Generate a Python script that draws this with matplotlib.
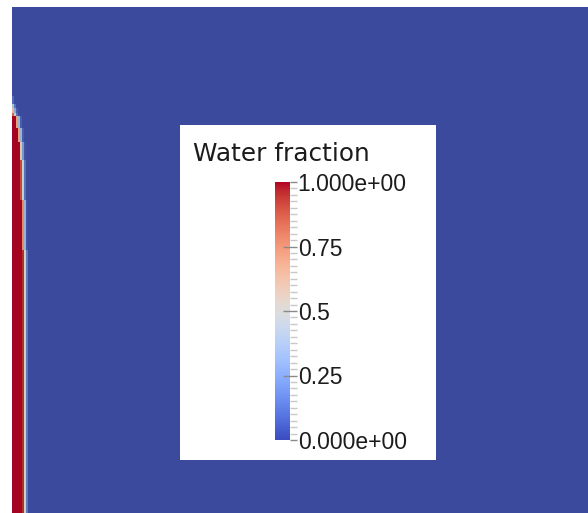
import numpy as np
import matplotlib
matplotlib.use("Agg")
import matplotlib.pyplot as plt
from matplotlib.colors import ListedColormap
from matplotlib import lines as mlines

# ---- figure geometry (pixels) ----
FIG_W, FIG_H, DPI = 588, 513, 100

# ---- water fraction field near the left wall ----
# cell columns (distance from the wall) and horizontal bands (depth from the top)
col_edges = [0, 2, 4, 6, 8, 10, 12, 14, 16]
band_edges = [89, 97, 101, 106, 109, 121, 135, 153, 193, 243, 506]
water = [
    [0.08, 0.00, 0.00, 0.00, 0.00, 0.00, 0.00, 0.00],
    [0.35, 0.10, 0.00, 0.00, 0.00, 0.00, 0.00, 0.00],
    [0.62, 0.25, 0.05, 0.00, 0.00, 0.00, 0.00, 0.00],
    [0.85, 0.45, 0.10, 0.00, 0.00, 0.00, 0.00, 0.00],
    [1.00, 1.00, 0.70, 0.30, 0.05, 0.00, 0.00, 0.00],
    [1.00, 1.00, 1.00, 0.70, 0.30, 0.05, 0.00, 0.00],
    [1.00, 1.00, 1.00, 1.00, 0.55, 0.20, 0.02, 0.00],
    [1.00, 1.00, 1.00, 1.00, 0.90, 0.45, 0.10, 0.00],
    [1.00, 1.00, 1.00, 1.00, 1.00, 0.75, 0.30, 0.02],
    [1.00, 1.00, 1.00, 1.00, 1.00, 0.95, 0.50, 0.12],
]
domain_w, domain_h = 576, 506

# ---- colour legend ----
bar_ticks = [0.0, 0.25, 0.5, 0.75, 1.0]
bar_labels = ["0.000e+00", "0.25", "0.5", "0.75", "1.000e+00"]
bar_title = "Water fraction"

base = plt.get_cmap("coolwarm")
# surface lighting dims the rendered field a little
lvals = np.linspace(0, 1, 256)[:, None]
light_lo = np.array([1.0, 0.97, 0.81])
light_hi = np.array([0.9, 0.9, 0.9])
lighting = light_lo * (1 - lvals) + light_hi * lvals
field_cmap = ListedColormap(np.clip(base(lvals[:, 0])[:, :3] * lighting, 0, 1))

fig = plt.figure(figsize=(FIG_W / DPI, FIG_H / DPI), dpi=DPI, facecolor="white")


def px_rect(x0, y0, x1, y1):
    return [x0 / FIG_W, 1 - y1 / FIG_H, (x1 - x0) / FIG_W, (y1 - y0) / FIG_H]


# render view
ax = fig.add_axes(px_rect(12, 7, FIG_W, FIG_H))
ax.pcolormesh(col_edges, band_edges, np.array(water), cmap=field_cmap,
              vmin=0, vmax=1, shading="flat")
ax.set_xlim(0, domain_w)
ax.set_ylim(domain_h, 0)
ax.axis("off")
ax.add_patch(plt.Rectangle((0, 0), 1, 1, transform=ax.transAxes,
                           facecolor=field_cmap(0.0), edgecolor="none", zorder=-1))

# legend panel
lg = fig.add_axes(px_rect(180, 125, 436, 460))
lg.set_facecolor("white")
lg.set_xticks([])
lg.set_yticks([])
for s in lg.spines.values():
    s.set_visible(False)

fig.text(193 / FIG_W, 1 - 161 / FIG_H, bar_title, family="DejaVu Sans",
         fontsize=17.8, color="#1c1c1c", va="baseline", ha="left")

cb = fig.add_axes(px_rect(275, 182, 290, 440))
cb.imshow(np.linspace(0, 1, 256).reshape(-1, 1), cmap=base, aspect="auto",
          origin="lower", extent=[0, 1, 0, 1])
cb.set_xlim(0, 1)
cb.set_ylim(0, 1)
cb.set_xticks([])
for s in cb.spines.values():
    s.set_visible(False)
cb.yaxis.tick_right()
cb.set_yticks(bar_ticks)
cb.set_yticklabels(bar_labels, family="Liberation Sans", fontsize=16.5,
                   color="#1c1c1c")
cb.set_yticks(np.arange(0, 1.0001, 0.025), minor=True)
cb.tick_params(axis="y", which="major", direction="inout", length=10,
               width=1.0, color="#8a8a8a", pad=0.5)
cb.tick_params(axis="y", which="minor", direction="out", length=5,
               width=1.0, color="#c8c8c8")
# end ticks stay short like the minor ones
for t in (cb.yaxis.get_major_ticks()[0], cb.yaxis.get_major_ticks()[-1]):
    t.tick2line.set_marker(mlines.TICKRIGHT)
    t.tick2line.set_markersize(5)
    t.tick2line.set_color("#c8c8c8")

fig.savefig("out.png", dpi=DPI, facecolor="white")
